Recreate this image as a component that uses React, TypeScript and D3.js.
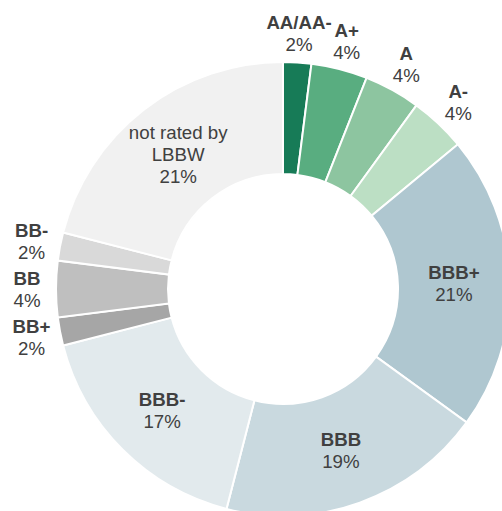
import * as d3 from "d3";
import React from "react";

const ratings = ["AA/AA-", "A+", "A", "A-", "BBB+", "BBB", "BBB-", "BB+", "BB", "BB-", "not rated by\nLBBW"];
const shares = [2, 4, 4, 4, 21, 19, 17, 2, 4, 2, 21];
const colors = [
  "#177b57", "#59ad80", "#8dc5a0", "#bcdfc4", "#afc7d0", "#c9d9df",
  "#e2eaed", "#a6a6a6", "#bfbfbf", "#d9d9d9", "#f1f1f1",
];
// small slices get their label outside the ring
const outside = [true, true, true, true, false, false, false, true, true, true, false];

const width = 502;
const height = 511;
const cx = 283;
const cy = 289;
const outerR = 227;
const innerR = 115;
const labelR = 256;
const fontSize = 18.7;
const lineH = 22;

const App = () => {
  const rows = ratings.map((r, i) => ({ rating: r, share: shares[i], color: colors[i], outside: outside[i] }));
  const pieGen = d3.pie<any>().value((d) => d.share).sort(null);
  const arcGen = d3.arc<any>().innerRadius(innerR).outerRadius(outerR);
  const labelArc = d3.arc<any>().innerRadius(labelR).outerRadius(labelR);
  const slices = pieGen(rows);

  return (
    <svg width={width} height={height} style={{ position: "absolute", left: 0, top: 0 }}>
      <g transform={`translate(${cx},${cy})`}>
        {slices.map((d, i) => (
          <path key={i} d={arcGen(d) || ""} fill={d.data.color} stroke="#fff" strokeWidth={2} />
        ))}
        {slices.map((d, i) => {
          const [x, y] = d.data.outside ? labelArc.centroid(d) : arcGen.centroid(d);
          const nameLines: string[] = d.data.rating.split("\n");
          const bold = nameLines.length === 1;
          const lines = [...nameLines.map((t) => ({ t, bold })), { t: `${d.data.share}%`, bold: false }];
          const n = lines.length;
          return (
            <text
              key={i}
              textAnchor="middle"
              fontFamily="'Liberation Sans', Arial, sans-serif"
              fontSize={fontSize}
              fill="#404040"
            >
              {lines.map((l, j) => (
                <tspan
                  key={j}
                  x={x}
                  y={y + (j - (n - 1) / 2) * lineH + 6.7}
                  fontWeight={l.bold ? "bold" : "normal"}
                >
                  {l.t}
                </tspan>
              ))}
            </text>
          );
        })}
      </g>
    </svg>
  );
};

export default App;
